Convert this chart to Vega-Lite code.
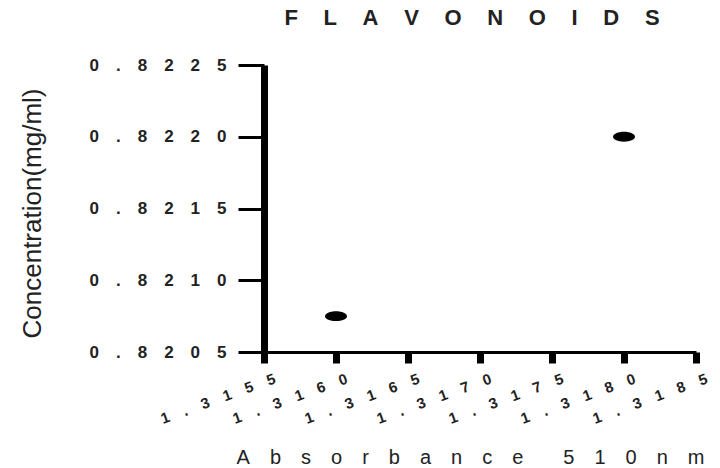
{
  "$schema": "https://vega.github.io/schema/vega-lite/v6.json",
  "width": 432,
  "height": 287,
  "autosize": "none",
  "padding": {"left": 264, "top": 65, "right": 24, "bottom": 116},
  "background": "white",
  "title": {
    "text": "F\u2003\u2006L\u2003\u2006A\u2003\u2006V\u2003\u2006O\u2003\u2006N\u2003\u2006O\u2003\u2006I\u2003\u2006D\u2003\u2006S",
    "font": "Liberation Sans",
    "fontSize": 22,
    "fontWeight": "bold",
    "color": "#222222",
    "anchor": "middle",
    "frame": "group",
    "offset": 26,
    "dx": -8
  },
  "data": {
    "values": [
      {"absorbance": 1.3160, "concentration": 0.82075},
      {"absorbance": 1.3180, "concentration": 0.8220}
    ]
  },
  "mark": {
    "type": "point",
    "filled": true,
    "shape": "M-1,0A1,0.45,0,1,0,1,0A1,0.45,0,1,0,-1,0Z",
    "size": 484,
    "color": "black",
    "opacity": 1
  },
  "encoding": {
    "x": {
      "field": "absorbance",
      "type": "quantitative",
      "scale": {"domain": [1.3155, 1.3185], "nice": false, "zero": false},
      "axis": {
        "values": [1.3155, 1.316, 1.3165, 1.317, 1.3175, 1.318, 1.3185],
        "format": ".4f",
        "grid": false,
        "domainColor": "black",
        "domainWidth": 3,
        "tickColor": "black",
        "tickWidth": 7,
        "tickSize": 11,
        "labelAngle": -20,
        "labelAlign": "right",
        "labelBaseline": "top",
        "labelPadding": 8,
        "labelOffset": 8,
        "labelFont": "Liberation Sans",
        "labelFontSize": 15,
        "labelFontWeight": "bold",
        "labelColor": "#222222",
        "labelOverlap": false,
        "labelBound": false,
        "labelFlush": false,
        "labelExpr": "join(split(datum.label, ''), '\u2003')",
        "title": "A\u2003b\u2003s\u2003o\u2003r\u2003b\u2003a\u2003n\u2003c\u2003e\u2003\u20035\u20031\u20030\u2003n\u2003m",
        "titleFont": "Liberation Sans",
        "titleFontSize": 20,
        "titleFontWeight": "normal",
        "titleColor": "#222222",
        "titleX": 206,
        "titleY": 105,
        "titleAlign": "center",
        "titleBaseline": "middle"
      }
    },
    "y": {
      "field": "concentration",
      "type": "quantitative",
      "scale": {"domain": [0.8205, 0.8225], "nice": false, "zero": false},
      "axis": {
        "values": [0.8205, 0.821, 0.8215, 0.822, 0.8225],
        "format": ".4f",
        "grid": false,
        "domainColor": "black",
        "domainWidth": 7,
        "tickColor": "black",
        "tickWidth": 3,
        "tickSize": 26,
        "labelPadding": 12,
        "labelFont": "Liberation Sans",
        "labelFontSize": 17,
        "labelFontWeight": "bold",
        "labelColor": "#222222",
        "labelBaseline": "middle",
        "labelOverlap": false,
        "labelBound": false,
        "labelFlush": false,
        "labelExpr": "join(split(datum.label, ''), '\u2003')",
        "title": "Concentration(mg/ml)",
        "titleFont": "Liberation Sans",
        "titleFontSize": 26,
        "titleFontWeight": "normal",
        "titleColor": "#222222",
        "titleAngle": -90,
        "titleX": -232,
        "titleY": 148,
        "titleAlign": "center",
        "titleBaseline": "middle"
      }
    }
  },
  "config": {"view": {"stroke": null}}
}
